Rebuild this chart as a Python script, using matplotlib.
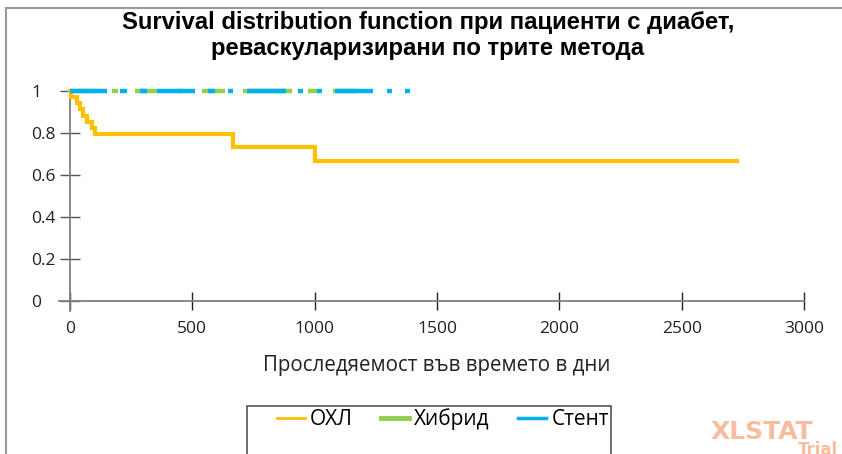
import matplotlib.pyplot as plt
from matplotlib.patches import Rectangle
from matplotlib.lines import Line2D

# --- data ---
# ОХЛ: Kaplan-Meier steps (time in days, survival after the step)
ohl_times = [0, 3, 28, 41, 55, 69, 90, 102, 668, 1000, 2725]
ohl_surv = [1.0, 0.971, 0.941, 0.912, 0.882, 0.853, 0.824, 0.794, 0.735, 0.668, 0.668]

# Хибрид / Стент: all censored, survival stays at 1 (visible pieces, days)
hybrid_start = [0, 172, 266, 437, 539, 707, 973, 1075]
hybrid_end = [102, 196, 356, 462, 633, 907, 1009, 1173]
stent_start = [0, 204, 286, 356, 564, 646, 723, 932, 1009, 1083, 1295, 1369]
stent_end = [151, 233, 315, 511, 593, 666, 883, 952, 1030, 1238, 1316, 1389]

series_names = ["ОХЛ", "Хибрид", "Стент"]
colors = ["#FFC000", "#92D050", "#00B0F0"]

x_ticks = [0, 500, 1000, 1500, 2000, 2500, 3000]
y_ticks = [0, 0.2, 0.4, 0.6, 0.8, 1]

W, H = 842, 454
fig = plt.figure(figsize=(W / 100, H / 100), dpi=100)
ax = fig.add_axes([59 / W, 1 - 310.5 / H, (804 - 59) / W, (310.5 - 80.5) / H])

ax.step(ohl_times, ohl_surv, where="post", color=colors[0], lw=3, solid_joinstyle="miter", zorder=3)
ax.hlines([1] * len(hybrid_start), hybrid_start, hybrid_end, color=colors[1], lw=3.2, zorder=4)
ax.hlines([1] * len(stent_start), stent_start, stent_end, color=colors[2], lw=3.2, zorder=5)

ax.set_xlim(-45, 3000)
ax.set_ylim(-0.045, 1.05)
for s in ["top", "right"]:
    ax.spines[s].set_visible(False)
ax.spines["bottom"].set_position(("data", 0))
ax.spines["left"].set_position(("data", 0))
ax.spines["left"].set_bounds(-0.045, 1)
for s in ["bottom", "left"]:
    ax.spines[s].set_color("#7f7f7f")
    ax.spines[s].set_linewidth(1.3)

ax.set_xticks(x_ticks)
ax.set_xticklabels([str(v) for v in x_ticks], family="Open Sans", fontsize=12.5, color="#222222")
ax.set_yticks(y_ticks)
ax.set_yticklabels([f"{v:g}" for v in y_ticks], family="Open Sans", fontsize=12.5, color="#222222")
ax.tick_params(axis="x", direction="inout", length=13, width=1, color="#222222", pad=8)
ax.tick_params(axis="y", direction="inout", length=14, width=1, color="#555555", pad=21)
for lbl in ax.get_yticklabels():
    lbl.set_horizontalalignment("left")

# title and axis label
fig.text(428 / W, 1 - 23 / H, "Survival distribution function при пациенти с диабет,",
         ha="center", va="center", family="Liberation Sans", weight="bold", fontsize=17.2)
fig.text(428 / W, 1 - 49 / H, "реваскуларизирани по трите метода",
         ha="center", va="center", family="Liberation Sans", weight="bold", fontsize=17.2)
fig.text(437 / W, 1 - 365 / H, "Проследяемост във времето в дни",
         ha="center", va="center", family="Open Sans", fontsize=14.8, color="#222222")

# legend box (runs past the bottom edge)
fig.patches.append(Rectangle((247 / W, -0.1), (611 - 247) / W, 1 - 406 / H + 0.1,
                             transform=fig.transFigure, fill=False, edgecolor="#555555", lw=1.2))
handles = [Line2D([], [], color=c, lw=lw) for c, lw in zip(colors, [2, 3.5, 2.5])]
leg = fig.legend(handles, series_names, loc="center left", bbox_to_anchor=(258 / W, 1 - 419 / H),
                 ncol=3, frameon=False, handlelength=1.35, handletextpad=0.25, columnspacing=1.35,
                 prop={"family": "Open Sans", "size": 15})

# outer frame lines
fig.add_artist(Line2D([6 / W, 1], [1 - 8 / H, 1 - 8 / H], transform=fig.transFigure, color="#9a9a9a", lw=1.5))
fig.add_artist(Line2D([6 / W, 6 / W], [0, 1 - 8 / H], transform=fig.transFigure, color="#9a9a9a", lw=1.5))

# watermark
fig.text(711 / W, 1 - 432 / H, "XLSTAT", ha="left", va="center", family="DejaVu Sans",
         weight="bold", fontsize=18, color="#F8BC9F")
fig.text(798 / W, 1 - 450 / H, "Trial", ha="left", va="center", family="DejaVu Sans",
         weight="bold", fontsize=12, color="#F8BC9F")

fig.savefig("out.png", dpi=100)
